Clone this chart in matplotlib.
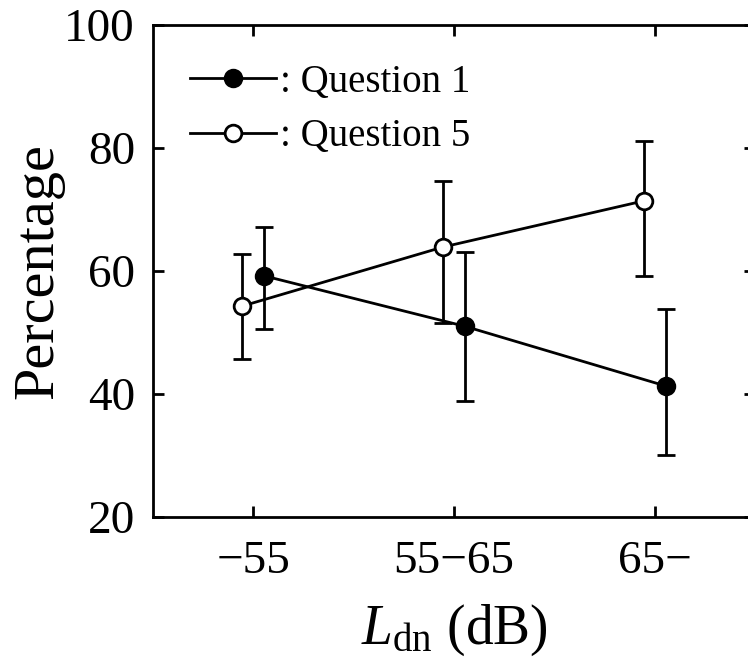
import matplotlib
matplotlib.use("Agg")
import matplotlib.pyplot as plt
import numpy as np

plt.rcParams['font.family'] = ['Liberation Serif', 'DejaVu Serif']
plt.rcParams['mathtext.fontset'] = 'custom'
plt.rcParams['mathtext.rm'] = 'Liberation Serif'
plt.rcParams['mathtext.it'] = 'Liberation Serif:italic'

# Données : pourcentage moyen par classe de bruit
categories = ['\u221255', '55\u221265', '65\u2212']
q1_mean = [59.2, 51.0, 41.3]
q1_low = [50.6, 38.9, 30.0]
q1_high = [67.2, 63.1, 53.8]
q5_mean = [54.3, 63.9, 71.4]
q5_low = [45.7, 51.5, 59.2]
q5_high = [62.8, 74.6, 81.1]
yticks = [20, 40, 60, 80, 100]

x = np.arange(len(categories))
dx = 0.055

fig = plt.figure(figsize=(7.48, 6.59), dpi=100)
ax = fig.add_axes([0.2045, 0.2155, 0.805, 0.7465])

def draw(xs, mean, low, high, face, label):
    mean = np.array(mean)
    err = [mean - np.array(low), np.array(high) - mean]
    ax.errorbar(xs, mean, yerr=err, fmt='none', ecolor='black',
                elinewidth=2, capsize=6.5, capthick=2, zorder=2)
    ax.plot(xs, mean, color='black', lw=2, marker='o', ms=12,
            mfc=face, mec='black', mew=2, label=label, zorder=3)

draw(x + dx, q1_mean, q1_low, q1_high, 'black', ': Question 1')
draw(x - dx, q5_mean, q5_low, q5_high, 'white', ': Question 5')

ax.set_xlim(-0.5, 2.5)
ax.set_ylim(20, 100)
ax.set_xticks(x)
ax.set_xticklabels(categories)
ax.set_yticks(yticks)
ax.tick_params(direction='in', length=8, width=2, labelsize=34,
               top=True, right=True)
ax.tick_params(axis='y', pad=13)
ax.tick_params(axis='x', pad=17)
for s in ax.spines.values():
    s.set_linewidth(2)

ax.set_ylabel('Percentage', fontsize=42, labelpad=0)
ax.set_xlabel('$L_{\\mathrm{dn}}$ (dB)', fontsize=40, labelpad=14)

leg = ax.legend(loc='upper left', frameon=False, fontsize=28,
                handlelength=2.2, handletextpad=0.1, labelspacing=0.45,
                borderaxespad=0, bbox_to_anchor=(0.036, 0.953))

fig.savefig('out.png', dpi=100)
